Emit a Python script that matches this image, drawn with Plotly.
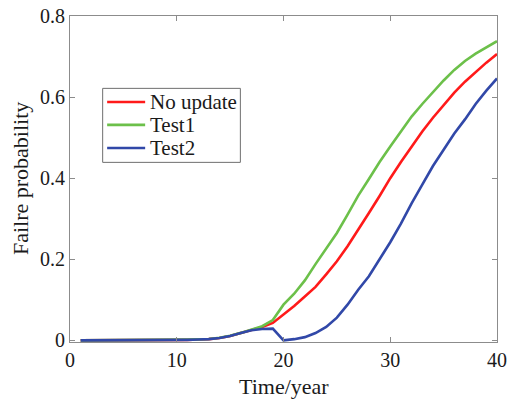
import plotly.graph_objects as go

# Time axis (years) and failure probability curves
years = list(range(1, 41))

no_update = [0, 0, 0, 0, 0, 0.0001, 0.0002, 0.0004, 0.0006, 0.0009,
             0.0013, 0.002, 0.003, 0.006, 0.011, 0.018, 0.025, 0.033, 0.043, 0.063,
             0.085, 0.108, 0.132, 0.163, 0.195, 0.232, 0.272, 0.314, 0.356, 0.400,
             0.440, 0.479, 0.515, 0.549, 0.581, 0.611, 0.638, 0.662, 0.685, 0.706]

test1 = [0, 0, 0, 0, 0.0001, 0.0002, 0.0004, 0.0006, 0.0009, 0.0013,
         0.0018, 0.0025, 0.0035, 0.0065, 0.0115, 0.0185, 0.026, 0.035, 0.050, 0.088,
         0.115, 0.148, 0.188, 0.225, 0.265, 0.310, 0.357, 0.398, 0.440, 0.478,
         0.515, 0.552, 0.583, 0.612, 0.641, 0.667, 0.689, 0.707, 0.723, 0.738]

test2 = [0, 0, 0, 0, 0, 0.0001, 0.0002, 0.0004, 0.0006, 0.0009,
         0.0013, 0.002, 0.003, 0.006, 0.011, 0.018, 0.025, 0.028, 0.029, 0.0,
         0.003, 0.008, 0.018, 0.033, 0.056, 0.088, 0.125, 0.158, 0.199, 0.242,
         0.288, 0.338, 0.384, 0.430, 0.470, 0.510, 0.545, 0.583, 0.616, 0.646]

series_names = ["No update", "Test1", "Test2"]
series_values = [no_update, test1, test2]
series_colors = ["#ff1a1a", "#6cc04a", "#3148a8"]

x_ticks = [0, 10, 20, 30, 40]
y_ticks = [0, 0.2, 0.4, 0.6, 0.8]
y_tick_text = ["0", "0.2", "0.4", "0.6", "0.8"]

serif = "'Liberation Serif', 'Times New Roman', Times, serif"
text_color = "#1a1a1a"
frame_color = "#8c8c8c"

fig = go.Figure()
for name, vals, color in zip(series_names, series_values, series_colors):
    fig.add_trace(go.Scatter(
        x=years, y=vals, name=name, mode="lines",
        line=dict(color=color, width=2.6),
        showlegend=False,
    ))

# Boxed legend in the upper-left of the axes (paper coordinates)
leg_x0, leg_x1 = 0.0765, 0.399
leg_y0, leg_y1 = 0.551, 0.778
row_y = [0.736, 0.666, 0.595]
fig.add_shape(type="rect", xref="paper", yref="paper",
              x0=leg_x0, x1=leg_x1, y0=leg_y0, y1=leg_y1,
              line=dict(color="#6f6f6f", width=1), fillcolor="white", layer="above")
for name, color, ry in zip(series_names, series_colors, row_y):
    fig.add_shape(type="line", xref="paper", yref="paper",
                  x0=0.087, x1=0.176, y0=ry, y1=ry,
                  line=dict(color=color, width=2.6), layer="above")
    fig.add_annotation(xref="paper", yref="paper", x=0.183, y=ry,
                       xanchor="left", yanchor="middle", showarrow=False,
                       text=name, font=dict(family=serif, size=21, color=text_color))

# Axis titles
fig.add_annotation(xref="paper", yref="paper", x=0.5, y=-0.138,
                   xanchor="center", yanchor="middle", showarrow=False,
                   text="Time/year", font=dict(family=serif, size=22, color=text_color))
fig.add_annotation(xref="paper", yref="paper", x=-0.117, y=0.5,
                   xanchor="center", yanchor="middle", showarrow=False, textangle=-90,
                   text="Failre probability", font=dict(family=serif, size=22, color=text_color))

axis_common = dict(
    showline=True, linecolor=frame_color, linewidth=1.2,
    mirror="ticks", ticks="inside", ticklen=5, tickcolor=frame_color,
    showgrid=False, zeroline=False, automargin=False,
    tickfont=dict(family=serif, size=20, color=text_color),
)

fig.update_layout(
    width=510, height=402,
    margin=dict(l=70, r=13, t=16, b=60),
    paper_bgcolor="white", plot_bgcolor="white",
    font=dict(family=serif, size=20, color=text_color),
    showlegend=False,
    xaxis=dict(range=[0, 40], tickvals=x_ticks, **axis_common),
    # a hair of room below zero so the baseline curves are not clipped
    yaxis=dict(range=[-0.004, 0.8], tickvals=y_ticks, ticktext=y_tick_text, **axis_common),
)

fig.write_html("out.html")
